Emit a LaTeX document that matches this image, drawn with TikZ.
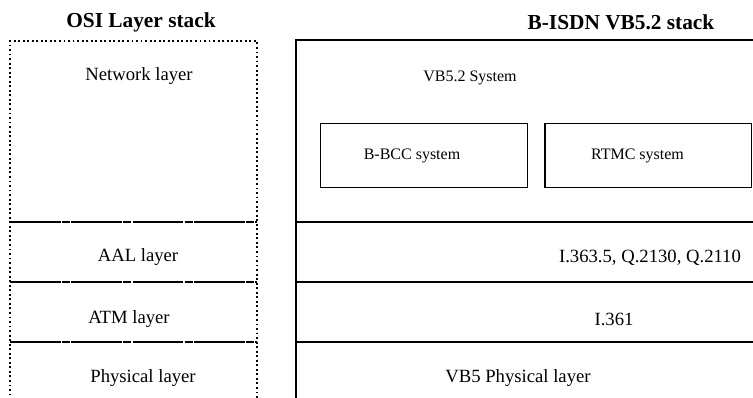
\documentclass[tikz,border=0pt]{standalone}
\usepackage{fontspec}
\setmainfont{Liberation Serif}
\usetikzlibrary{positioning}

\begin{document}
\begin{tikzpicture}[x=0.75pt,y=-0.75pt,
      mytitle/.style={font=\fontsize{16}{18}\selectfont\bfseries},
      mytext/.style={font=\fontsize{14}{16}\selectfont},
      mysmall/.style={font=\fontsize{12}{14}\selectfont},
      mybox/.style={
         draw,
         line width=1.1pt,
         minimum width=155pt,
         minimum height=48pt},
      osiline/.style={dash pattern=on 38pt off 1pt on 6pt off 1pt},
      vbline/.style={line width=1.5pt}
      ]
      \useasboundingbox (0,0) rectangle (753,397);

      % titles
      \node[mytitle] (t1) at (141,22) {OSI Layer stack};
      \node[mytitle] (t2) at (621,22) {B-ISDN VB5.2 stack};

      % OSI stack
      \draw[dotted, line width=1.4pt] (10,400) |- (257,41) -- (257,400);
      \foreach \y/\w in {222/1.5pt, 282/1.5pt, 342/0.8pt}
         \draw[osiline, line width=\w] (10,\y) -- (257,\y);
      \node[mytext] (l1) at (139,76) {Network layer};
      \node[mytext] (l2) at (138,257) {AAL layer};
      \node[mytext] (l3) at (129,319) {ATM layer};
      \node[mytext] (l4) at (143,378) {Physical layer};

      % VB5.2 stack
      \draw[line width=1.1pt] (296,400) |- (760,40);
      \foreach \y in {222,282,342}
         \draw[vbline] (296,\y) -- (760,\y);
      \node[mysmall] (r1) at (470,78) {VB5.2 System};
      \node[mybox, label={[mysmall,xshift=-9pt]center:B-BCC system}] (b1) at (424,155.5) {};
      \node[mybox, right=12pt of b1, label={[mysmall,xshift=-8pt]center:RTMC system}] (b2) {};
      \node[mytext] (r2) at (650,258) {I.363.5, Q.2130, Q.2110};
      \node[mytext] (r3) at (614,319) {I.361};
      \node[mytext] (r4) at (518,378) {VB5 Physical layer};
\end{tikzpicture}
\end{document}
